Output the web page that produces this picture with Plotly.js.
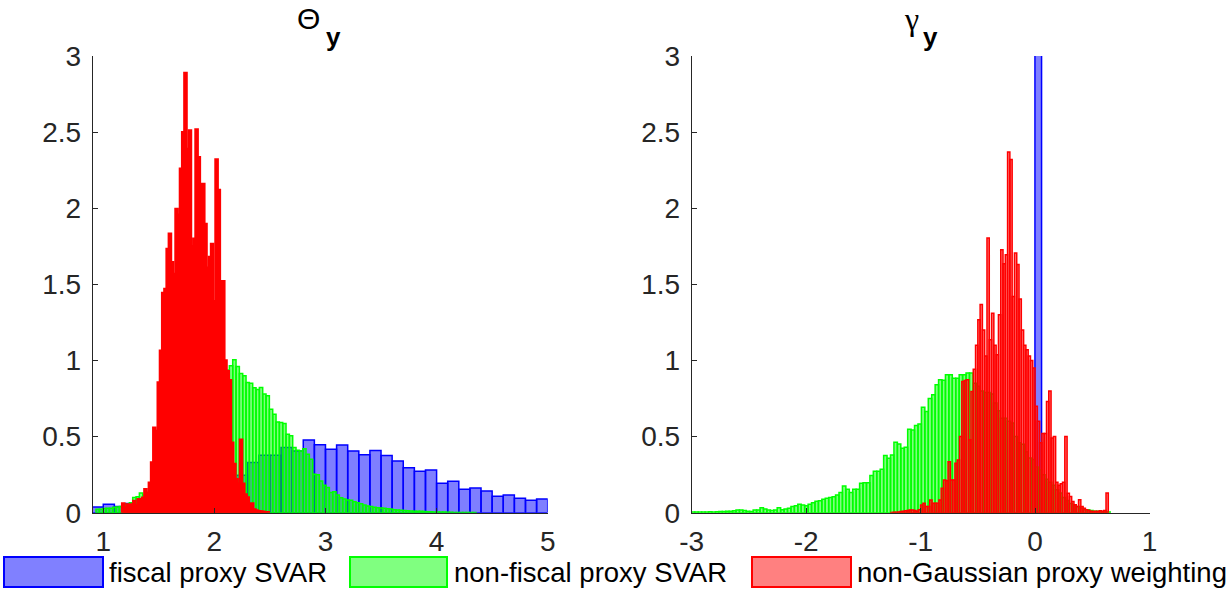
<!DOCTYPE html>
<html><head><meta charset="utf-8">
<script src="https://cdn.plot.ly/plotly-3.0.1.min.js"></script>
<style>html,body{margin:0;padding:0;background:#fff}#chart{width:1228px;height:589px}</style>
</head><body><div id="chart"></div>
<script>
// ---------- data (histogram pdf heights) ----------
// Left panel: Theta_y
const thetaBlueStart = 0.95, thetaBlueWidth = 0.1;
const thetaBlue = [0.037,0.055,0.04,0.06,0.07,0.07,0.09,0.10,0.12,0.14,0.16,0.18,0.21,0.246,0.33,0.378,0.378,0.428,0.406,0.478,0.447,0.417,0.445,0.406,0.38,0.408,0.375,0.34,0.296,0.272,0.281,0.193,0.206,0.154,0.162,0.143,0.108,0.116,0.095,0.082,0.09];

const thetaGreenStart = 0.95, thetaGreenWidth = 0.03;
const thetaGreen = [0.022,0.022,0.028,0.03,0.03,0.035,0.037,0.04,0.048,0.055,0.065,0.1,0.105,0.13,0.115,0.13,0.19,0.22,0.25,0.29,0.33,0.37,0.41,0.45,0.49,0.53,0.57,0.61,0.65,0.69,0.72,0.75,0.78,0.81,0.84,0.86,0.88,0.9,0.92,0.937,0.965,1.005,0.96,0.915,0.9,0.855,0.85,0.82,0.81,0.822,0.779,0.768,0.68,0.647,0.596,0.592,0.586,0.516,0.505,0.428,0.41,0.406,0.42,0.384,0.351,0.252,0.25,0.208,0.18,0.165,0.132,0.138,0.116,0.099,0.09,0.084,0.082,0.072,0.066,0.059,0.05,0.044,0.04,0.036,0.033,0.031,0.03,0.026,0.024,0.02,0.018,0.016,0.014,0.012,0.011,0.01,0.009,0.009,0.008,0.007,0.006,0.005,0.005,0.004,0.004,0.003,0.003,0.002,0.002,0.002,0.001,0.001,0.001,0.001];

const thetaRedStart = 1.18, thetaRedWidth = 0.02;
const thetaRed = [0.06,0.035,0.055,0.03,0.055,0.077,0.05,0.088,0.07,0.099,0.154,0.132,0.197,0.33,0.559,0.537,0.855,1.064,1.443,1.47,1.733,1.832,1.645,1.568,1.996,1.958,2.259,2.50,2.888,2.39,2.511,1.75,1.80,2.518,2.336,1.766,2.16,1.897,1.61,1.68,1.766,1.39,2.32,2.12,1.35,1.52,1.0,0.93,0.87,0.46,0.32,0.22,0.19,0.48,0.19,0.12,0.10,0.055,0.06,0.022,0.015,0.01,0.008,0.006,0.004,0.003];

// Right panel: gamma_y
const gammaBlueStart = 0.028, gammaBlueWidth = 0.058;
const gammaBlue = [17];

const gammaGreenStart = -2.988, gammaGreenWidth = 0.03;
const gammaGreen = [0.005,0.005,0.005,0.005,0.004,0.006,0.005,0.006,0.008,0.008,0.01,0.01,0.012,
0.018,0.018,0.015,0.01,0.008,0.018,0.018,0.033,0.025,0.018,0.015,0.018,0.033,0.02,0.025,0.03,0.04,0.045,0.055,0.05,0.045,0.055,0.066,0.075,0.079,0.088,0.095,0.1,
0.105,0.117,0.132,0.176,0.154,0.132,0.154,0.154,0.193,0.197,0.197,0.244,0.272,0.272,0.285,0.375,0.357,0.379,0.463,0.452,0.424,0.43,0.548,0.544,0.572,0.583,0.693,0.665,0.75,0.774,0.84,0.873,
0.87,0.906,0.906,0.884,0.884,0.906,0.906,0.917,0.917,
0.85,0.83,0.8,0.79,0.79,0.78,0.72,0.67,0.62,0.62,0.6,0.59,0.5,0.46,0.45,0.4,0.36,0.35,0.3,0.28,0.25,0.22,0.2,0.18,0.15,0.13,0.1,0.08,0.06,0.05,0.04,0.03,0.02,0.02,0.015,0.01,0.01,0.008,0.005,0.005];

const gammaRedStart = -1.25, gammaRedWidth = 0.02;
const gammaRed = [0.002,0.003,0.003,0.005,0.008,0.01,0.013,0.015,0.018,0.018,0.015,0.01,0.02,0.05,0.062,0.04,0.04,0.083,0.062,0.062,0.062,0.083,0.16,0.215,0.21,0.335,0.215,0.215,0.325,0.347,0.5,0.862,0.868,0.873,0.479,0.796,0.943,1.1,1.268,1.367,1.2,1.03,1.805,1.136,1.31,1.1,1.038,1.3,1.728,1.636,1.695,2.369,2.32,1.421,1.706,1.63,1.404,1.2,1.1,1.07,1.03,1.0,0.95,0.7,0.6,0.46,0.52,0.52,0.73,0.8,0.49,0.5,0.2,0.18,0.19,0.2,0.5,0.128,0.107,0.074,0.053,0.04,0.085,0.04,0.03,0.02,0.015,0.01,0.008,0.01,0.008,0.012,0.01,0.015,0.13];

const seriesNames = ['fiscal proxy SVAR', 'non-fiscal proxy SVAR', 'non-Gaussian proxy weighting'];
const edgeColors = ['rgb(0,0,255)', 'rgb(0,255,0)', 'rgb(255,0,0)'];
const faceColors = ['rgba(0,0,255,0.5)', 'rgba(0,255,0,0.5)', 'rgba(255,0,0,0.5)'];
const legendFace = ['rgb(128,128,255)', 'rgb(128,255,128)', 'rgb(255,128,128)'];

const xTicksLeft = [1, 2, 3, 4, 5];
const xTicksRight = [-3, -2, -1, 0, 1];
const xTickTextRight = ['-3', '-2', '-1', '0', '1'];
const yTicks = [0, 0.5, 1, 1.5, 2, 2.5, 3];
const yTickText = ['0', '0.5', '1', '1.5', '2', '2.5', '3'];

// ---------- traces ----------
function hist(vals, start, width, idx, xa, ya, lw) {
  return {
    type: 'bar', y: vals, x0: start, dx: width, width: width,
    xaxis: xa, yaxis: ya, name: seriesNames[idx], showlegend: false,
    marker: { color: faceColors[idx], line: { color: edgeColors[idx], width: lw } },
    hoverinfo: 'skip'
  };
}
const data = [
  hist(thetaBlue, thetaBlueStart, thetaBlueWidth, 0, 'x', 'y', 1.5),
  hist(thetaGreen, thetaGreenStart, thetaGreenWidth, 1, 'x', 'y', 1.5),
  hist(thetaRed, thetaRedStart, thetaRedWidth, 2, 'x', 'y', 2.4),
  hist(gammaBlue, gammaBlueStart, gammaBlueWidth, 0, 'x2', 'y2', 1.5),
  hist(gammaGreen, gammaGreenStart, gammaGreenWidth, 1, 'x2', 'y2', 1.5),
  hist(gammaRed, gammaRedStart, gammaRedWidth, 2, 'x2', 'y2', 1.5)
];

// ---------- layout ----------
const W = 1228, H = 589;
const axCol = '#262626';
const tickFont = { family: 'Liberation Sans, Arial, sans-serif', size: 28, color: axCol };
function xAx(domain, range, tv, tt) {
  return { domain: domain, range: range, tickvals: tv, ticktext: tt, ticks: 'inside', ticklen: 5, tickwidth: 1, tickcolor: axCol,
    showline: true, linecolor: axCol, linewidth: 1, showgrid: false, zeroline: false, tickfont: tickFont,
    ticklabelstandoff: 4, fixedrange: true };
}
function yAx(anchor) {
  return { domain: [1 - 512.7 / H, 1 - 56 / H], range: [0, 3], tickvals: yTicks, ticktext: yTickText, ticks: 'inside', ticklen: 5,
    tickwidth: 1, tickcolor: axCol, showline: true, linecolor: axCol, linewidth: 1, showgrid: false, zeroline: false,
    tickfont: tickFont, anchor: anchor, ticklabelstandoff: 5, fixedrange: true };
}

const shapes = [], annotations = [];
const patchX = [[4, 103], [350, 447], [752, 851]];
const textX = [107, 452, 855];
for (let i = 0; i < 3; i++) {
  shapes.push({ type: 'rect', xref: 'paper', yref: 'paper', x0: patchX[i][0] / W, x1: patchX[i][1] / W,
    y0: 1 - 587 / H, y1: 1 - 557 / H, fillcolor: legendFace[i], line: { color: edgeColors[i], width: 2 } });
  annotations.push({ xref: 'paper', yref: 'paper', x: textX[i] / W, y: 1 - 572 / H, xanchor: 'left', yanchor: 'middle',
    text: seriesNames[i], showarrow: false, font: { family: 'Liberation Sans, Arial, sans-serif', size: 27.5, color: '#000' } });
}
// titles
annotations.push({ xref: 'paper', yref: 'paper', x: 308.5 / W, y: 1 - 19 / H, xanchor: 'center', yanchor: 'middle',
  text: '\u0398', showarrow: false, font: { family: 'Liberation Sans, Arial, sans-serif', size: 30, color: '#000' } });
annotations.push({ xref: 'paper', yref: 'paper', x: 333.5 / W, y: 1 - 37 / H, xanchor: 'center', yanchor: 'middle',
  text: '<b>y</b>', showarrow: false, font: { family: 'Liberation Sans, Arial, sans-serif', size: 26, color: '#000' } });
annotations.push({ xref: 'paper', yref: 'paper', x: 911 / W, y: 1 - 19 / H, xanchor: 'center', yanchor: 'middle',
  text: '\u03b3', showarrow: false, font: { family: 'Liberation Serif, serif', size: 32, color: '#000' } });
annotations.push({ xref: 'paper', yref: 'paper', x: 930 / W, y: 1 - 37 / H, xanchor: 'center', yanchor: 'middle',
  text: '<b>y</b>', showarrow: false, font: { family: 'Liberation Sans, Arial, sans-serif', size: 26, color: '#000' } });

const layout = {
  width: W, height: H, margin: { l: 0, r: 0, t: 0, b: 0 },
  paper_bgcolor: '#fff', plot_bgcolor: '#fff',
  barmode: 'overlay', bargap: 0, showlegend: false,
  xaxis: Object.assign(xAx([92.7 / W, 547.7 / W], [0.905, 5], xTicksLeft, xTicksLeft.map(String)), { anchor: 'y' }),
  yaxis: yAx('x'),
  xaxis2: Object.assign(xAx([691.7 / W, 1149.5 / W], [-3, 1], xTicksRight, xTickTextRight), { anchor: 'y2' }),
  yaxis2: yAx('x2'),
  shapes: shapes, annotations: annotations
};

Plotly.newPlot('chart', data, layout, { displayModeBar: false, staticPlot: true });
</script></body></html>
